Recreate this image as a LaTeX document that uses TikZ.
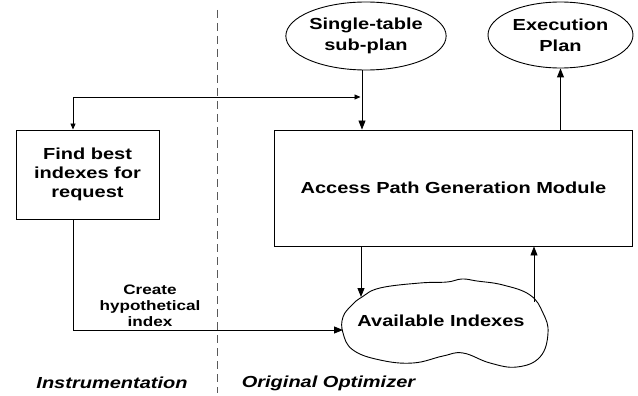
\documentclass[tikz,border=0pt]{standalone}
\usepackage{fontspec}
\newfontfamily\lblfont{Liberation Sans}[FakeStretch=1.25]
\usetikzlibrary{arrows.meta,shapes.geometric}
\begin{document}
\begin{tikzpicture}[x=1pt,y=-1pt,line width=0.9pt,
  lbl/.style={font=\lblfont\bfseries\fontsize{16}{19}\selectfont,align=center,text=black,inner sep=0pt},
  small/.style={font=\lblfont\bfseries\fontsize{13.7}{16}\selectfont,align=center,text=black,inner sep=0pt},
  ital/.style={font=\lblfont\bfseries\itshape\fontsize{16}{19}\selectfont,text=black,inner sep=0pt},
  boxn/.style={draw,rectangle,inner sep=0pt},
  ell/.style={draw,ellipse,inner sep=0pt,font=\lblfont\bfseries\fontsize{16}{21}\selectfont,align=center},
  arr/.style={-{Triangle[length=9pt,width=7pt]}},
  sarr/.style={{Triangle[length=6pt,width=5pt]}-{Triangle[length=6pt,width=5pt]}}
]
\useasboundingbox (0,0) rectangle (638,396);
% divider
\draw[gray!70!black,dashed,dash pattern=on 8pt off 5pt] (217,10) -- (217,393);
% nodes
\node[boxn,lbl,minimum width=143pt,minimum height=89pt] (find) at (87.5,174.5) {Find best\\indexes for\\request};
\node[boxn,minimum width=358pt,minimum height=116pt] (acc) at (453.5,188) {};
\node[lbl] (acctext) at (453.5,188) {Access Path Generation Module};
\node[ell,minimum width=158pt,minimum height=68pt] (st) at (366,36) {Single-table\\sub-plan};
\node[ell,minimum width=145pt,minimum height=66pt] (ex) at (560.5,35) {Execution\\Plan};
% cloud outline
\draw plot[smooth cycle,tension=0.7] coordinates {
  (362,297) (380,288) (420,283) (447,282) (462,279) (477,281) (503,285) (530,295)
  (543,313) (548,333) (540,357) (517,367) (490,363) (463,353) (443,356) (413,363)
  (380,360) (353,350) (343,333) (343,317) (352,305)};
\node[lbl] (cloud) at (441,321) {Available Indexes};
\coordinate (cloudin) at (343,330);
\coordinate (cloudtop) at (361,297);
\coordinate (cloudout) at (534,302);
\coordinate (junc) at (362,97);
% connectors
\draw[arr] ([xshift=-4pt]st.south) -- ([xshift=-4pt]st.south |- acc.north);
\draw[sarr] ([xshift=-14.5pt]find.north) |- ([xshift=-1.5pt]junc);
\draw[arr] (acc.north -| ex.south) -- (ex.south);
\draw[arr] (acc.south -| cloudtop) -- (cloudtop);
\draw[arr] (cloudout) -- (acc.south -| cloudout);
\draw[arr] ([xshift=-14.5pt]find.south) |- (cloudin);
% labels
\node[small] (create) at (150,306) {Create\\hypothetical\\index};
\node[ital] (instr) at (112,383) {Instrumentation};
\node[ital] (orig) at (328.5,383) {Original Optimizer};
\end{tikzpicture}
\end{document}
